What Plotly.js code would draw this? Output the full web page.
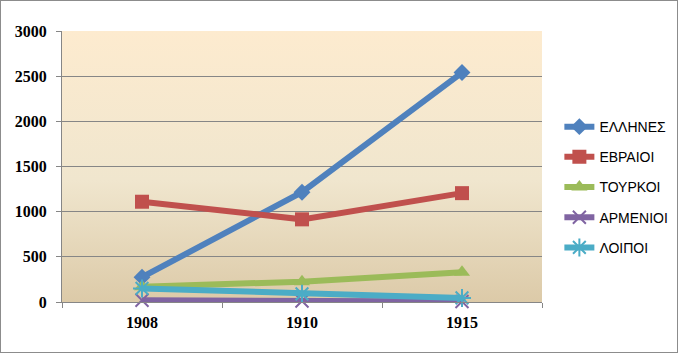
<!DOCTYPE html>
<html>
<head>
<meta charset="utf-8">
<script src="https://cdn.plot.ly/plotly-3.0.1.min.js"></script>
<style>
html,body{margin:0;padding:0;background:#fff;}
#wrap{width:676px;height:351px;border:1px solid #8c8c8c;}
#chart{width:676px;height:351px;}
</style>
</head>
<body>
<div id="wrap"><div id="chart"></div></div>
<script>
const years = ["1908", "1910", "1915"];
const seriesNames = ["ΕΛΛΗΝΕΣ", "ΕΒΡΑΙΟΙ", "ΤΟΥΡΚΟΙ", "ΑΡΜΕΝΙΟΙ", "ΛΟΙΠΟΙ"];
const ellines = [275, 1215, 2540];
const evraioi = [1110, 915, 1205];
const tourkoi = [170, 225, 330];
const armenioi = [20, 12, 5];
const loipoi = [150, 90, 45];

const colors = ["#4F81BD", "#C0504D", "#9BBB59", "#8064A2", "#4BACC6"];
const symbols = ["diamond", "square", "triangle-up", "x-thin-open", "asterisk-open"];
const sizes = [13, 14, 14, 13, 15];
const values = [ellines, evraioi, tourkoi, armenioi, loipoi];

const traces = values.map((v, i) => ({
  type: "scatter",
  mode: "lines+markers",
  x: years,
  y: v,
  name: seriesNames[i],
  legendgroup: "g" + i,
  line: {color: colors[i], width: 6},
  marker: {
    symbol: symbols[i],
    size: sizes[i],
    color: colors[i],
    line: {color: colors[i], width: (i >= 3 ? 2 : 0)}
  },
  cliponaxis: false
}));

const grad = 'data:image/svg+xml;utf8,' + encodeURIComponent(
  '<svg xmlns="http://www.w3.org/2000/svg" width="100" height="100" preserveAspectRatio="none">' +
  '<defs><linearGradient id="g" x1="0" y1="0" x2="0" y2="1">' +
  '<stop offset="0" stop-color="#FDEBCF"/>' +
  '<stop offset="0.55" stop-color="#F0E6CE"/>' +
  '<stop offset="1" stop-color="#DCCAA8"/>' +
  '</linearGradient></defs><rect width="100" height="100" fill="url(#g)"/></svg>');

const layout = {
  width: 676,
  height: 351,
  margin: {l: 61, r: 135, t: 30, b: 50},
  paper_bgcolor: "#ffffff",
  plot_bgcolor: "rgba(0,0,0,0)",
  showlegend: true,
  images: [{
    source: grad,
    xref: "paper", yref: "paper",
    x: 0, y: 1, sizex: 1, sizey: 1,
    xanchor: "left", yanchor: "top",
    sizing: "stretch",
    layer: "below"
  }],
  xaxis: {
    type: "category",
    range: [-0.5, 2.5],
    tickson: "boundaries",
    ticks: "outside",
    ticklen: 5,
    tickcolor: "#868686",
    showline: true,
    linecolor: "#868686",
    linewidth: 1,
    showgrid: false,
    zeroline: false,
    tickfont: {family: "Liberation Serif, serif", size: 16, color: "#000", weight: "bold"},
    ticklabelstandoff: 6
  },
  yaxis: {
    range: [0, 3000],
    dtick: 500,
    ticks: "outside",
    ticklen: 5,
    tickcolor: "#868686",
    showline: true,
    linecolor: "#868686",
    showgrid: true,
    gridcolor: "#868686",
    gridwidth: 1,
    zeroline: false,
    tickfont: {family: "Liberation Serif, serif", size: 16, color: "#000", weight: "bold"},
    ticklabelstandoff: 6
  },
  legend: {
    xref: "container", yref: "container",
    x: 0.826, xanchor: "left",
    y: 0.47, yanchor: "middle",
    font: {family: "Liberation Sans, sans-serif", size: 14, color: "#000"},
    tracegroupgap: 9,
    itemwidth: 30,
    bgcolor: "rgba(0,0,0,0)"
  }
};

Plotly.newPlot("chart", traces, layout, {displayModeBar: false, staticPlot: true});
</script>
</body>
</html>
